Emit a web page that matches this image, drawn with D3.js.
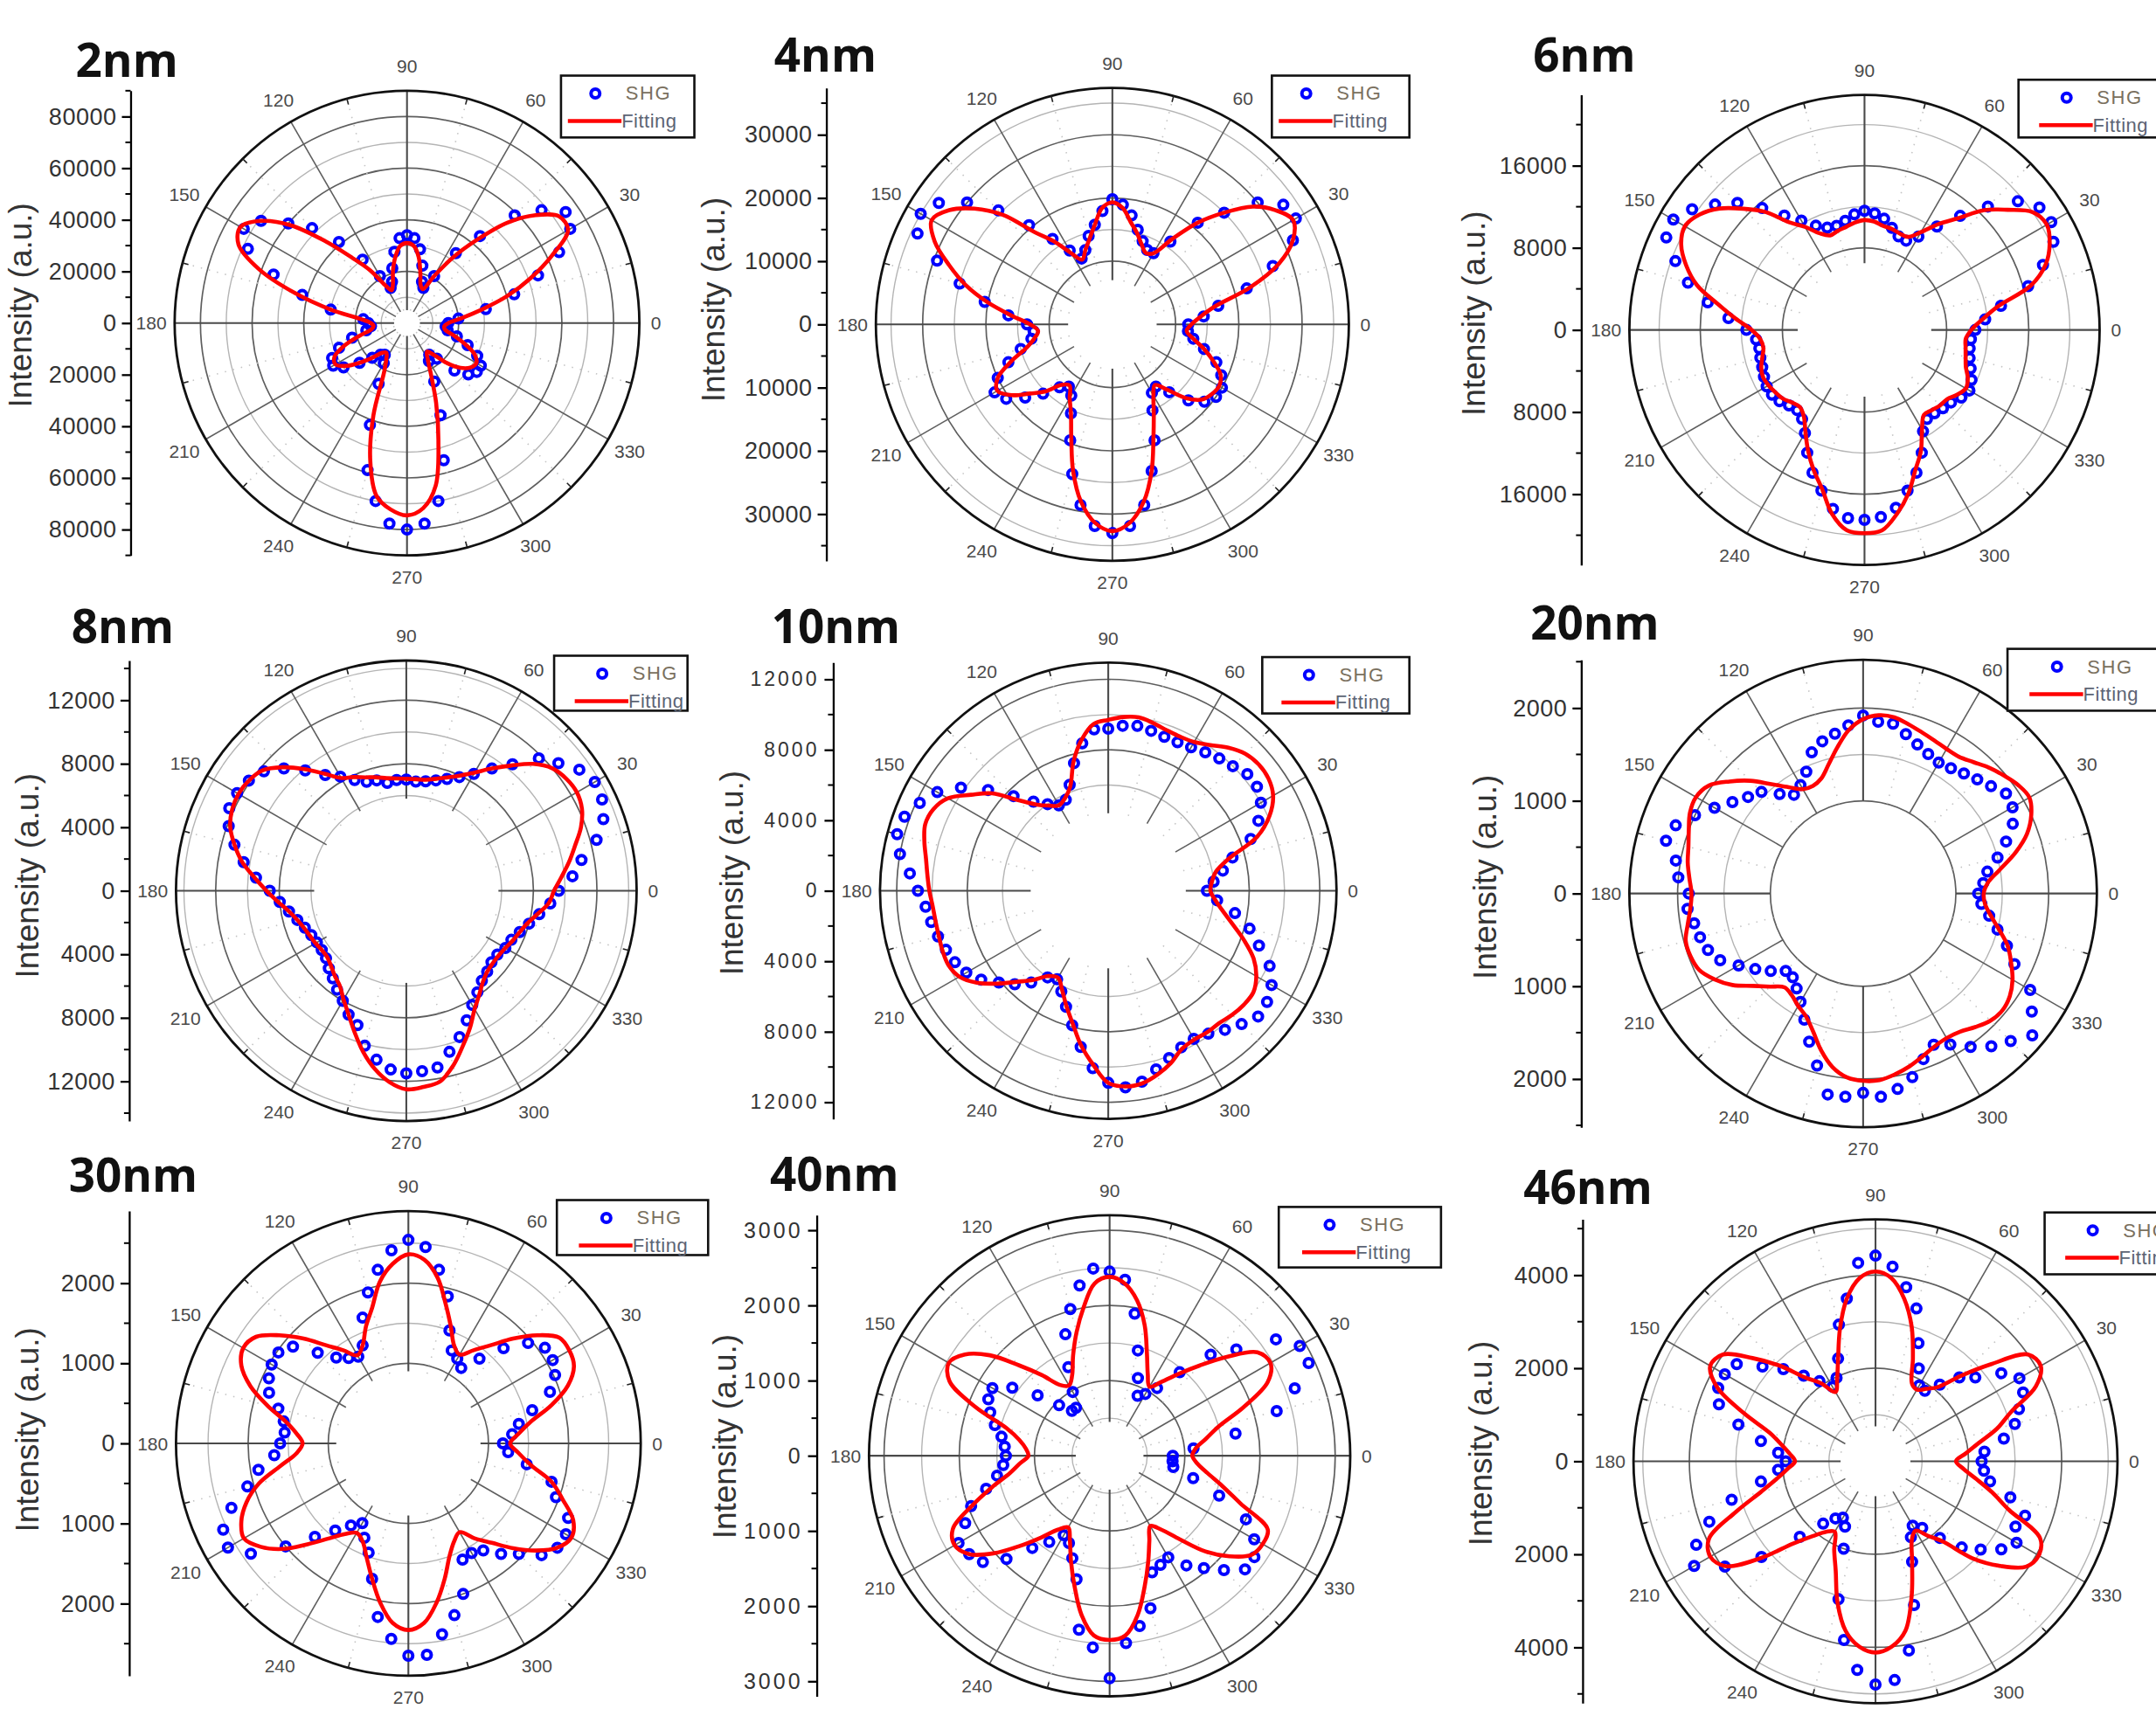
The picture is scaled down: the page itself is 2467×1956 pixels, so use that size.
<!DOCTYPE html>
<html><head><meta charset="utf-8">
<script src="https://cdn.jsdelivr.net/npm/d3@7"></script>
<style>body{margin:0;background:#fff}svg{display:block}</style>
</head><body>
<svg id="chart" width="2467" height="1956"></svg>
<script>
// ---------------- DATA (intensities in units of 1000 counts) ----------------
const angles = [0,5,10,15,20,25,30,35,40,45,50,55,60,65,70,75,80,85,90,95,100,105,110,115,120,125,130,135,140,145,150,155,160,165,170,175,180,185,190,195,200,205,210,215,220,225,230,235,240,245,250,255,260,265,270,275,280,285,290,295,300,305,310,315,320,325,330,335,340,345,350,355];
const panelNames = ["2nm","4nm","6nm","8nm","10nm","20nm","30nm","40nm","46nm"];
const angleTickLabels = [0,30,60,90,120,150,180,210,240,270,300,330];

const shg2nm = [16,20,31,43,54,65,73,75,68,59,44,33, 21,15,17,23,29,33,34,33,28,22,17,15, 21,30,41,52,60,69,73,68,55,42,30,17, 15,14,16,22,28,32,33,30,24,19,16,15, 18,26,42,59,70,78,80,78,70,55,38,25, 17,15,18,26,31,33,33,30,25,20,16,15];
const fit2nm = [16,21,29,40,51,62,72,72,65,55,42,31, 21,14.5,15.5,20,26,30,31,30,26,21,16,14, 17,25,33,45,59,69,74.5,72,61,45,30,18, 14,13,14,19,26,31,32,29,24,19,15,14, 16,21,38,55,68,72.5,74.5,72,64,47,33,22, 16,13.5,16,22,27,30,31,29,24,19,15,14.5];

const shg4nm = [12,14.5,17,22,27,31.5,33.5,33,30,25,21,16, 13,13,14,15.5,17.5,19,19.8,18,16,14.5,12.5,11.5, 13.5,16.5,20.5,25.5,30,33.5,35,34,29.5,25,20.5,16.5, 13.5,12.5,13,15,17.5,20,21.5,20.5,18,15.5,13,12, 13,15.5,19.5,24.5,29,32,33,32,29,24,19.5,15, 12.5,12,14,17,19,20,20,19,17.5,15,13,12];
const fit4nm = [12.5,14,16.5,22.5,28,31.5,33,31.5,29,25,21,16.5, 13,12.5,13.5,15,16.5,18.5,19.3,18.5,16,14,12.5,11.3, 13,16,19,24.5,28.5,31.5,33,31,27.5,24,20,16, 13,11.8,12.5,14,17,20,21,19.5,17,15,12.5,11.8, 13.5,15.5,19,24,28.5,31.5,32.7,31.5,28.5,24,19,15.5, 13,11.7,13.5,16.5,18.5,19.2,19.5,18.9,17,15,13,11.8];

const shg6nm = [10.8,11.8,13.5,16.5,18.5,20.3,21,20.8,19.5,17,14.5,12.3, 10.5,9.6,9.7,10.3,11,11.4,11.6,11.3,10.8,10.5,10.6,11.2, 12.3,13.6,15.5,17.5,19,20.5,21.5,21.3,19.6,17.8,15.5,13.3, 11.5,10.6,10.4,10.5,10.6,10.8,11,11,10.8,10.4,10.2,10.6, 11.6,13.2,14.8,16.2,17.7,18.4,18.5,18.3,17.6,16.2,14.8,13.2, 11.4,10.6,10.6,10.8,11,11.5,11.8,11.5,11,10.6,10.4,10.4];
const fit6nm = [10.4,11.5,13.2,16.8,18.8,19.9,20.5,20,18.2,16.5,14.2,12.6, 11,10,10,10.2,10.3,10.6,10.7,10.5,10.2,10,9.8,10.4, 11.6,12.8,15,16.7,18.4,19.6,20.2,19.7,18.5,16.9,14.5,12.6, 11,10.2,10,10.3,10.7,10.9,10.8,10.6,10.4,10,9.8,10.3, 11.5,13,14.5,16,18.2,19.6,19.8,19.6,18.2,16.5,14.5,13, 11.2,10.1,10.2,10.4,10.5,11,11.4,11.1,10.5,10.2,10,9.9];

const shg8nm = [9.6,10.5,11.2,12.4,13.2,13.6,13.7,13.3,12.5,11.8,10.4,9.4, 8.5,7.9,7.5,7.2,7,6.9,7,7,6.9,7.2,7.3,7.7, 8.3,8.9,9.9,10.9,11.7,12.1,12.3,12.3,11.9,11.2,10.4,9.5, 8.6,8,7.5,7.1,6.8,6.6,6.5,6.5,6.6,6.9,7.2,7.6, 8,8.6,9,10.1,10.8,11.3,11.5,11.4,11.3,10.5,9.8,9, 8.3,7.8,7.4,7.2,7,7,7.2,7.3,7.6,8,8.5,9.1];
const fit8nm = [9.3,9.8,10.4,11,11.7,12.2,12.4,12.3,12,11.3,10.3,9.4, 8.6,8,7.6,7.3,7.1,7.05,7.05,7.1,7.2,7.4,7.6,7.9, 8.2,9,10,11,11.8,12.1,12.2,12.1,11.8,11.2,10.5,9.6, 8.8,8.1,7.5,7.1,6.85,6.7,6.6,6.5,6.5,6.7,7,7.3, 7.9,8.6,9.5,10.5,11.4,12.1,12.5,12.4,12.2,11.4,10.4,9.5, 8.6,8,7.5,7.2,7.1,7.1,7.2,7.4,7.6,7.9,8.4,9];

const shg10nm = [5.6,6,6.6,7.3,8.6,9.4,10,10.3,10.3,10,9.8,9.6, 9.4,9.3,9.3,9.4,9.5,9.4,9.2,9.2,8.5,7.5,6.4,5.7, 5.6,6,6.6,7.6,8.9,10.2,11.2,11.8,12.3,12.4,12,11.3, 10.8,10.4,10.2,10,9.8,9.6,9.3,8.8,8.1,7.5,6.8,6, 5.8,6.3,7,7.9,9,10.1,10.9,11.2,11,10.5,10.1,9.8, 9.7,9.9,10.3,10.7,11.1,11,10.7,10.1,9.1,8.3,7.3,6.2];
const fit10nm = [5.8,5.9,6.2,7.1,9,10.1,10.8,11.1,11.15,11,10.6,10.1, 9.75,9.65,9.7,9.85,9.99,9.9,9.7,9.5,8.7,7.6,6.3,5.8, 5.6,5.9,6.4,7.3,8.6,9.5,10.5,10.95,11.05,10.8,10.5,10.3, 10.15,10,9.95,9.95,10,10,9.75,9.1,8.2,7.3,6.6,5.9, 5.7,6.2,6.95,7.8,8.9,9.9,10.9,11.15,11.1,10.8,10.4,9.9, 9.75,9.8,9.8,9.95,10.05,10.05,9.7,9.1,8.2,7.3,6.6,6.1];

const shg20nm = [1.24,1.3,1.36,1.5,1.64,1.78,1.86,1.88,1.8,1.74,1.69,1.65, 1.63,1.66,1.71,1.78,1.86,1.86,1.92,1.82,1.75,1.7,1.62,1.45, 1.35,1.3,1.4,1.55,1.62,1.72,1.85,2,2.15,2.2,2.05,2, 1.88,1.9,1.85,1.82,1.78,1.7,1.55,1.42,1.3,1.18,1.18,1.25, 1.35,1.5,1.7,1.92,2.2,2.2,2.15,2.2,2.14,2.05,1.9,1.8, 1.88,2.02,2.15,2.25,2.38,2.22,2.08,1.8,1.65,1.5,1.38,1.28];
const fit20nm = [1.3,1.35,1.5,1.7,1.88,2,2.07,2.04,1.98,1.92,1.85,1.8, 1.8,1.82,1.85,1.89,1.93,1.93,1.88,1.77,1.6,1.44,1.32,1.28, 1.3,1.4,1.54,1.72,1.88,2.03,2.08,2.06,2,1.95,1.92,1.88, 1.85,1.87,1.92,1.98,1.98,1.95,1.85,1.72,1.55,1.42,1.32,1.34, 1.4,1.46,1.58,1.75,1.9,1.99,2.02,2.02,1.98,1.93,1.87,1.82, 1.8,1.82,1.88,1.94,1.96,1.93,1.86,1.76,1.66,1.52,1.4,1.32];

const shg30nm = [1.18,1.3,1.4,1.6,1.88,2.02,2.08,2.08,1.95,1.68,1.38,1.15, 1.22,1.28,1.5,1.9,2.2,2.46,2.54,2.42,2.2,1.95,1.67,1.35, 1.25,1.3,1.4,1.6,1.88,1.98,1.97,1.92,1.85,1.68,1.58,1.55, 1.6,1.68,1.9,2.08,2.35,2.55,2.6,2.4,2,1.65,1.42,1.25, 1.15,1.3,1.45,1.75,2.2,2.45,2.65,2.65,2.42,2.22,2,1.6, 1.58,1.63,1.8,1.95,2.17,2.27,2.27,2.2,1.96,1.85,1.5,1.25];
const fit30nm = [1.27,1.38,1.55,1.85,2.12,2.28,2.32,2.3,2.1,1.85,1.6,1.42, 1.28,1.35,1.55,1.8,2.1,2.3,2.36,2.25,2.05,1.75,1.55,1.35, 1.27,1.42,1.6,1.85,2.1,2.32,2.38,2.3,2.1,1.82,1.55,1.4, 1.32,1.4,1.62,1.93,2.15,2.3,2.37,2.25,2.05,1.78,1.55,1.38, 1.29,1.35,1.52,1.75,2.02,2.25,2.33,2.25,2.02,1.75,1.5,1.35, 1.28,1.45,1.62,1.85,2.08,2.27,2.35,2.27,2.05,1.85,1.55,1.38];

const shg40nm = [0.84,1.12,1.7,2.3,2.62,2.92,2.92,2.7,2.2,1.9,1.45,1.1, 0.95,0.88,1.1,1.45,1.92,2.35,2.45,2.5,2.3,2.02,1.72,1.3, 0.98,0.78,0.78,0.95,1.25,1.58,1.8,1.78,1.69,1.58,1.46,1.4, 1.38,1.42,1.52,1.7,1.96,2.12,2.32,2.28,2.2,1.94,1.6,1.4, 1.22,1.28,1.45,1.7,2.35,2.56,2.96,2.5,2.3,2.1,1.65,1.6, 1.56,1.78,1.95,2.15,2.35,2.35,2.22,2,1.55,1.15,0.86,0.84];
const fit40nm = [1.1,1.15,1.3,1.5,1.9,2.32,2.47,2.4,2.05,1.7,1.42,1.2, 1.06,1.2,1.45,1.8,2.1,2.3,2.38,2.3,2,1.7,1.42,1.18, 1.08,1.15,1.4,1.7,2.08,2.35,2.47,2.35,1.9,1.42,1.22,1.12, 1.08,1.2,1.35,1.62,1.95,2.3,2.38,2.28,2.02,1.7,1.42,1.2, 1.1,1.25,1.5,1.8,2.15,2.4,2.45,2.4,2.15,1.8,1.5,1.25, 1.08,1.2,1.45,1.8,2.08,2.3,2.35,2.32,1.85,1.55,1.32,1.17];

const shg46nm = [2.28,2.35,2.8,3.1,3.28,3.5,3.57,3.3,2.8,2.55,2.15,1.85, 1.88,2.2,2.7,3.4,3.8,4.2,4.42,4.28,3.55,3.04,2.35,1.98, 1.85,2.1,2.4,2.8,3.17,3.64,3.74,3.73,3.58,3.05,2.5,2.1, 1.93,2.1,2.5,3.2,3.8,4.25,4.5,3.95,3.2,2.3,1.75,1.5, 1.4,1.55,2,3.07,3.9,4.5,4.8,4.72,4.13,3.2,2.3,1.8, 1.6,1.75,2.15,2.62,2.95,3.3,3.5,3.32,3.42,3,2.5,2.34];
const fit46nm = [1.73,1.95,2.25,2.7,3.1,3.8,4.1,4,3.25,2.6,2.08,1.9, 1.78,1.85,2.35,3,3.55,3.95,4.08,3.95,3.55,2.95,2.35,1.95, 1.72,2.05,2.35,2.9,3.45,4,4.1,3.75,3,2.35,2.05,1.85, 1.73,1.9,2.15,2.55,3.2,3.95,4.1,3.93,3.25,2.5,2.1,1.85, 1.75,2.1,2.5,3.15,3.7,4,4.11,4,3.7,3,2.3,1.85, 1.72,1.95,2.25,2.95,3.5,3.95,4.05,3.9,3.05,2.6,2.2,1.9];

// radial axis settings (k counts)
const radialMax = [90, 37.4, 22.9, 14.5, 12.95, 2.52, 2.9, 3.2, 5.2];
const ringValues = [[10,20,30,40,50,60,70,80],[10,15,20,25,30,35],[8,12,16,20],[6,8,10,12,14],[6,8,10,12],[1,1.5,2],[1,1.5,2,2.5],[0.5,1,1.5,2,2.5,3],[1,2,3,4,5]];
const darkRings = [[20,40,60,80],[10,20,30],[8,16],[8,12],[8,12],[1,2],[1,2],[1,2,3],[2,4]];
const spokeInner = [5, 7, 6.5, 5.8, 4.4, 1, 0.9, 0.45, 0.75];
// intensity axis tick labels (k counts; printed as absolute counts)
const yTicks = [[-80,-60,-40,-20,0,20,40,60,80],[-30,-20,-10,0,10,20,30],[-16,-8,0,8,16],[-12,-8,-4,0,4,8,12],[-12,-8,-4,0,4,8,12],[-2,-1,0,1,2],[-2,-1,0,1,2],[-3,-2,-1,0,1,2,3],[-4,-2,0,2,4]];
const yMinorStep = [10, 5, 4, 2, 2, 0.5, 0.5, 0.5, 1];

const shgSeries = [shg2nm, shg4nm, shg6nm, shg8nm, shg10nm, shg20nm, shg30nm, shg40nm, shg46nm];
const fitSeries = [fit2nm, fit4nm, fit6nm, fit8nm, fit10nm, fit20nm, fit30nm, fit40nm, fit46nm];

// ---------------- LAYOUT (reference measured on 1568-wide scale) ----------------
const K = 2467/1568;
const W = 2467, H = 1956;
const layout = [
 {cx:296, cy:235, R:169, ax:95, tx:55, ty:56, lx:408, ly:55, lw:97, lh:45, lo:0, yl:[15,222], fs:27, ls:0.5},
 {cx:809, cy:236, R:172, ax:601, tx:563, ty:52, lx:925, ly:55, lw:100, lh:45, lo:0, yl:[519,218], fs:27, ls:0.5},
 {cx:1356, cy:240, R:171, ax:1150, tx:1115, ty:52, lx:1468, ly:58, lw:110, lh:42, lo:10, yl:[1072,228], fs:27, ls:0.5},
 {cx:295.5, cy:648, R:167.5, ax:94, tx:52, ty:468, lx:403, ly:477, lw:97, lh:40, lo:10, yl:[20,637], fs:27, ls:0.5},
 {cx:806, cy:648, R:166, ax:606, tx:561, ty:468, lx:918, ly:478, lw:107, lh:41, lo:9, yl:[532,635], fs:23, ls:3},
 {cx:1355, cy:650, R:170, ax:1150, tx:1113, ty:465, lx:1460, ly:472, lw:110, lh:45, lo:11, yl:[1080,638], fs:27, ls:0.5},
 {cx:297, cy:1050, R:169, ax:94, tx:50, ty:867, lx:405, ly:873, lw:110, lh:40, lo:11, yl:[20,1040], fs:27, ls:0.5},
 {cx:807, cy:1059, R:175, ax:594, tx:560, ty:866, lx:930, ly:878, lw:118, lh:44, lo:12, yl:[527,1045], fs:25, ls:3},
 {cx:1364, cy:1063, R:176, ax:1151, tx:1108, ty:876, lx:1487, ly:882, lw:100, lh:45, lo:10, yl:[1077,1050], fs:27, ls:0.5}
];

const svg = d3.select("#chart");
svg.append("rect").attr("width", W).attr("height", H).attr("fill", "#fff");
const NUMFONT = "'Liberation Sans', Arial, sans-serif";
const rad = a => a * Math.PI / 180;
const minorSpokes = [15,45,75,105,135,165,195,225,255,285,315,345];
const labelGap = a => (a === 0 ? 12 : a === 180 ? 17 : a === 270 ? 15.5 : 18);
const MK_R = 5.0, MK_W = 4.0;

panelNames.forEach((name, i) => {
  const L = layout[i];
  const cx = L.cx * K, cy = L.cy * K, R = L.R * K;
  const max = radialMax[i];
  const r = d3.scaleLinear().domain([0, max]).range([0, R]);
  const g = svg.append("g").attr("transform", `translate(${cx},${cy})`);

  // rings
  g.append("g").selectAll("circle").data(ringValues[i]).join("circle")
    .attr("r", d => r(d)).attr("fill", "none")
    .attr("stroke", d => darkRings[i].includes(d) ? "#5e5e5e" : "#b4b4b4")
    .attr("stroke-width", d => darkRings[i].includes(d) ? 1.7 : 1.4);

  // dotted minor spokes
  g.append("g").selectAll("line").data(minorSpokes).join("line")
    .attr("x1", a => r(spokeInner[i]) * Math.cos(rad(a))).attr("y1", a => -r(spokeInner[i]) * Math.sin(rad(a)))
    .attr("x2", a => R * Math.cos(rad(a))).attr("y2", a => -R * Math.sin(rad(a)))
    .attr("stroke", "#c4c4c4").attr("stroke-width", 1.6).attr("stroke-dasharray", "1.5,8");

  // major spokes
  g.append("g").selectAll("line").data(angleTickLabels).join("line")
    .attr("x1", a => r(spokeInner[i]) * Math.cos(rad(a))).attr("y1", a => -r(spokeInner[i]) * Math.sin(rad(a)))
    .attr("x2", a => R * Math.cos(rad(a))).attr("y2", a => -R * Math.sin(rad(a)))
    .attr("stroke", a => a % 90 === 0 ? "#4a4a4a" : "#5e5e5e")
    .attr("stroke-width", a => a % 90 === 0 ? 2.1 : 1.6);

  // outer circle + small ticks
  g.append("circle").attr("r", R).attr("fill", "none").attr("stroke", "#111").attr("stroke-width", 2.8);
  g.append("g").selectAll("line").data(minorSpokes).join("line")
    .attr("x1", a => (R - 7) * Math.cos(rad(a))).attr("y1", a => -(R - 7) * Math.sin(rad(a)))
    .attr("x2", a => R * Math.cos(rad(a))).attr("y2", a => -R * Math.sin(rad(a)))
    .attr("stroke", "#222").attr("stroke-width", 1.6);

  // angle labels (only those that fall inside the picture)
  const labelPos = a => {
    const rr = R + labelGap(a) * K;
    return [rr * Math.cos(rad(a)), -rr * Math.sin(rad(a))];
  };
  const visibleLabels = angleTickLabels.filter(a => cy + labelPos(a)[1] + 9 < H);
  g.append("g").selectAll("text").data(visibleLabels).join("text")
    .attr("x", a => labelPos(a)[0]).attr("y", a => labelPos(a)[1])
    .attr("text-anchor", "middle").attr("dominant-baseline", "central")
    .attr("font-family", NUMFONT).attr("font-size", 21).attr("fill", "#4a4a4a")
    .text(a => a);

  // SHG markers
  const pts = d3.zip(angles, shgSeries[i]);
  g.append("g").selectAll("circle").data(pts).join("circle")
    .attr("cx", d => r(d[1]) * Math.cos(rad(d[0])))
    .attr("cy", d => -r(d[1]) * Math.sin(rad(d[0])))
    .attr("r", MK_R).attr("fill", "none").attr("stroke", "#0000ff").attr("stroke-width", MK_W);

  // fitting curve
  const line = d3.lineRadial()
    .angle(d => rad(90 - d[0])).radius(d => r(d[1]))
    .curve(d3.curveCatmullRomClosed.alpha(0.5));
  g.append("path").attr("d", line(d3.zip(angles, fitSeries[i])))
    .attr("fill", "none").attr("stroke", "#ff0000").attr("stroke-width", 4.6).attr("stroke-linejoin", "round");

  // intensity axis
  const y = d3.scaleLinear().domain([-max, max]).range([R, -R]);
  const axisG = svg.append("g").attr("transform", `translate(${L.ax * K},${cy})`)
    .call(d3.axisLeft(y).tickValues(yTicks[i]).tickFormat(d => String(Math.round(Math.abs(d) * 1000)))
      .tickSize(10).tickSizeOuter(0).tickPadding(6));
  axisG.attr("font-family", NUMFONT).attr("font-size", L.fs);
  axisG.select(".domain").attr("stroke", "#000").attr("stroke-width", 2.3);
  axisG.selectAll(".tick line").attr("stroke", "#000").attr("stroke-width", 2.3);
  axisG.selectAll(".tick text").attr("fill", "#333").attr("letter-spacing", L.ls);
  const step = yMinorStep[i];
  const nMin = Math.floor(max / step + 1e-9);
  const minors = d3.range(-nMin, nMin + 1).map(j => j * step)
    .filter(v => !yTicks[i].some(t => Math.abs(t - v) < 1e-9));
  axisG.append("g").selectAll("line").data(minors).join("line")
    .attr("x1", -6).attr("x2", 0).attr("y1", d => y(d)).attr("y2", d => y(d))
    .attr("stroke", "#000").attr("stroke-width", 2);

  // axis title
  svg.append("text")
    .attr("transform", `translate(${L.yl[0] * K},${L.yl[1] * K}) rotate(-90)`)
    .attr("text-anchor", "middle").attr("dominant-baseline", "central")
    .attr("font-family", NUMFONT).attr("font-size", 37).attr("fill", "#333")
    .text("Intensity (a.u.)");

  // panel title
  svg.append("text").attr("x", L.tx * K).attr("y", L.ty * K)
    .attr("font-family", "'Open Sans', 'Liberation Sans', sans-serif").attr("font-weight", 700)
    .attr("font-size", 53).attr("fill", "#111").text(name);

  // legend
  const lg = svg.append("g").attr("transform", `translate(${L.lx * K},${L.ly * K})`);
  lg.append("rect").attr("width", L.lw * K).attr("height", L.lh * K)
    .attr("fill", "#fff").attr("stroke", "#111").attr("stroke-width", 2.6);
  lg.append("circle").attr("cx", (25 + L.lo) * K).attr("cy", 13 * K).attr("r", MK_R)
    .attr("fill", "none").attr("stroke", "#0000ff").attr("stroke-width", MK_W);
  lg.append("text").attr("x", (47 + L.lo) * K).attr("y", 13 * K).attr("dominant-baseline", "central")
    .attr("font-family", NUMFONT).attr("font-size", 22).attr("letter-spacing", 1.5)
    .attr("fill", "#7a705e").text("SHG");
  lg.append("line").attr("x1", (5 + L.lo) * K).attr("x2", (44 + L.lo) * K)
    .attr("y1", 33 * K).attr("y2", 33 * K).attr("stroke", "#ff0000").attr("stroke-width", 4.5);
  lg.append("text").attr("x", (44 + L.lo) * K).attr("y", 33 * K).attr("dominant-baseline", "central")
    .attr("font-family", NUMFONT).attr("font-size", 22).attr("letter-spacing", 0.5)
    .attr("fill", "#5c6474").text("Fitting");
});
</script>
</body></html>
